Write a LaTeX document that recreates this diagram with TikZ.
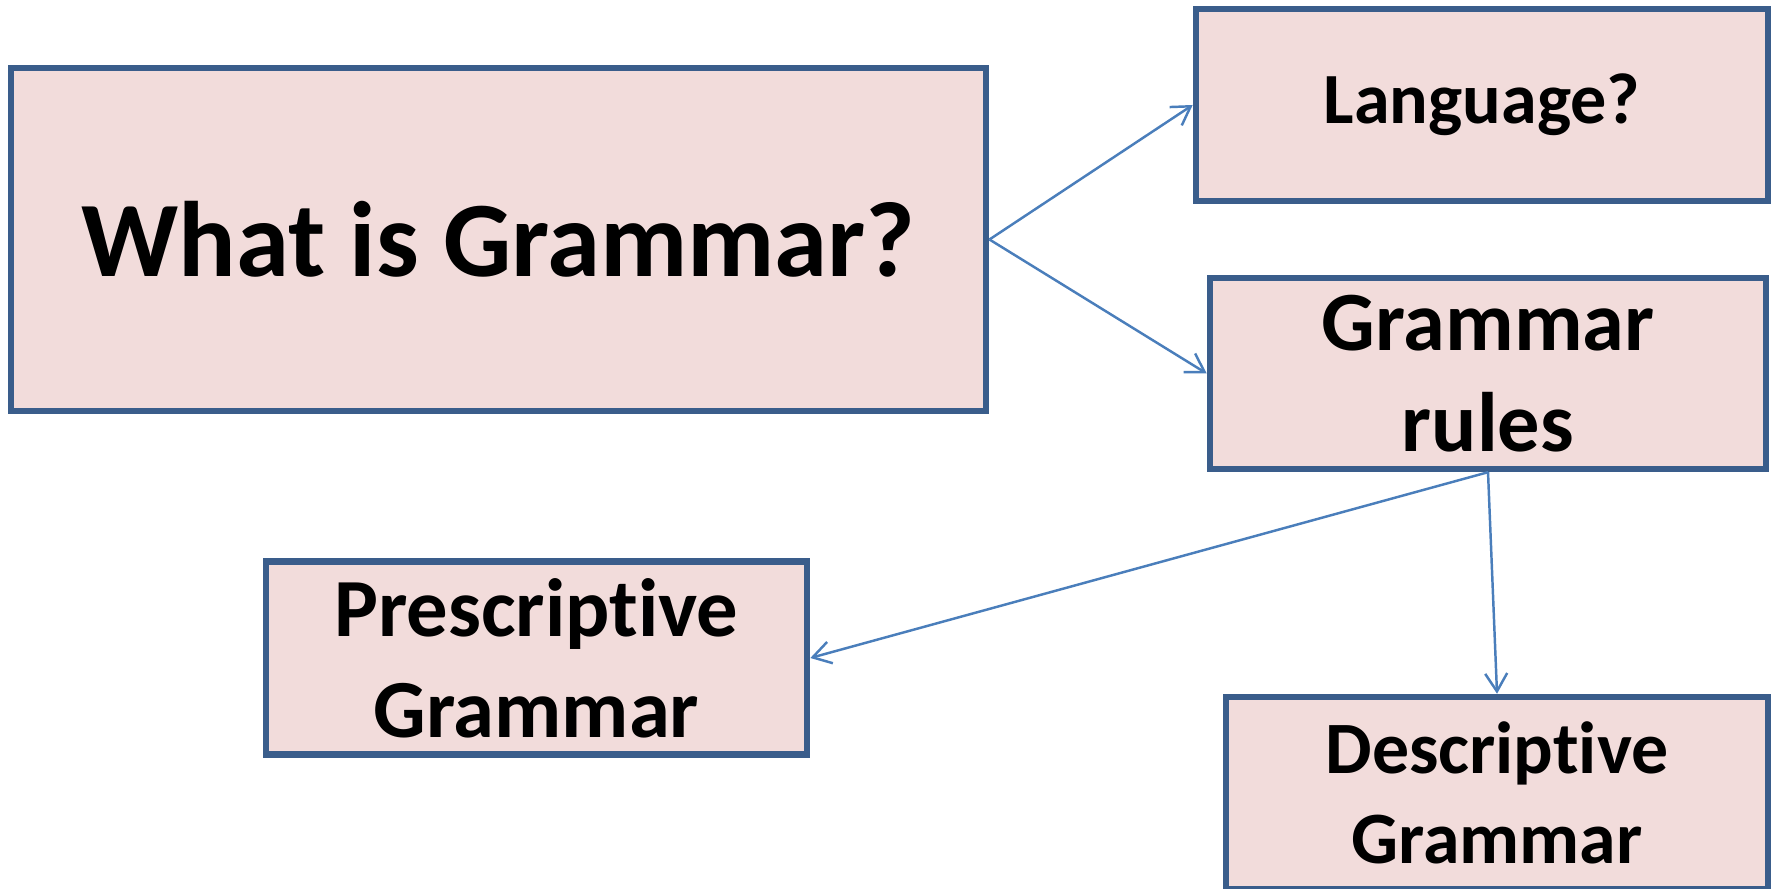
\documentclass[tikz,border=0pt]{standalone}
\usepackage{fontspec}
\setmainfont[Ligatures=NoCommon]{Carlito}
\usetikzlibrary{arrows.meta,positioning}

\definecolor{boxfill}{HTML}{F2DCDB}
\definecolor{boxline}{HTML}{3A5D8B}
\definecolor{linkblue}{HTML}{4A7EBB}

\begin{document}
\begin{tikzpicture}[x=0.01cm, y=-0.01cm,
        box/.style={rectangle, draw=boxline, line width=1.8pt, fill=boxfill, align=center, inner sep=0pt},
        link/.style={-{Straight Barb[length=1.8mm,width=2.2mm]}, draw=linkblue, line width=0.7pt}]
        \useasboundingbox (0,0) rectangle (1777,889);

        \node (question) [box, minimum width=9.75cm, minimum height=3.43cm, font=\bfseries\fontsize{30.5}{36}\selectfont] at (498.5,239.5) {What is Grammar?};
        \node (language) [box, minimum width=5.72cm, minimum height=1.92cm, font=\bfseries\fontsize{20.5}{25}\selectfont] at (1482,105) {Language?};
        \node (rules) [box, minimum width=5.56cm, minimum height=1.91cm, font=\bfseries\fontsize{24}{28.7}\selectfont] at (1488,373.5) {Grammar\\rules};
        \node (prescriptive) [box, minimum width=5.41cm, minimum height=1.93cm, font=\bfseries\fontsize{23.5}{28.7}\selectfont] at (536.5,658) {Prescriptive\\Grammar};
        \node (descriptive) [box, minimum width=5.42cm, minimum height=1.92cm, font=\bfseries\fontsize{21}{25.6}\selectfont] at (1497,793) {Descriptive\\Grammar};

        % links
        \draw[link] (question.east) -- (language.west);
        \draw[link] (question.east) -- (rules.west);
        \draw[link] (rules.south) -- (prescriptive.east);
        \draw[link] (rules.south) -- (descriptive.north);
    \end{tikzpicture}
\end{document}
